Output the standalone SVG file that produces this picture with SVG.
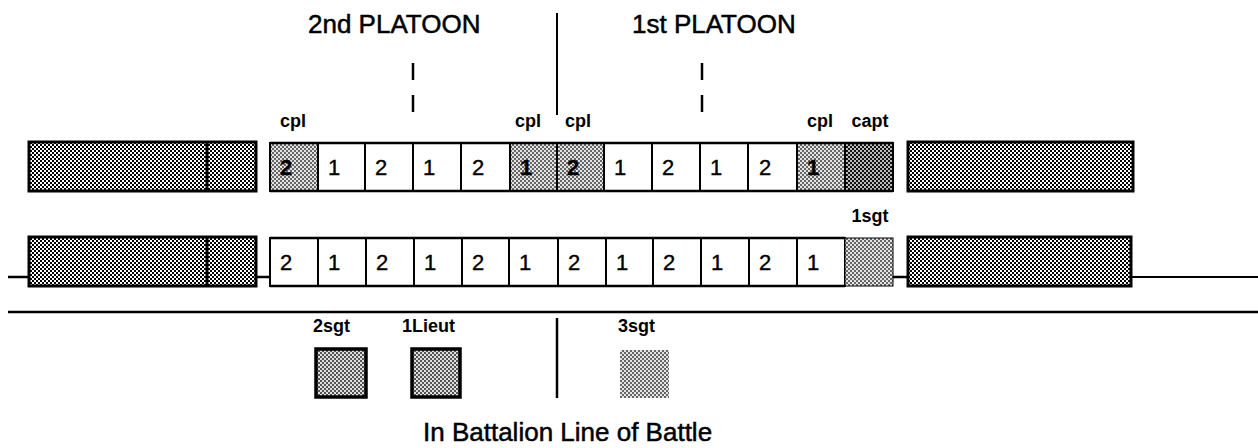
<svg xmlns="http://www.w3.org/2000/svg" width="1258" height="448" viewBox="0 0 1258 448">
<style>
.t{font-family:"Liberation Sans",Arial,sans-serif;fill:#000}
.title{font-size:26px;stroke:#000;stroke-width:0.5}
.lab{font-size:18px;font-weight:bold}
.dig{font-size:22px;stroke:#000;stroke-width:0.4}
.cell{fill:#fff;stroke:#000;stroke-width:2}
.big{fill:url(#pDark);stroke:#000;stroke-width:3}
.cpl{fill:url(#pLight);stroke:#000;stroke-width:2}
.capt{fill:url(#pDarker);stroke:#000;stroke-width:2}
.ln{stroke:#000;fill:none}
</style>
<defs>
<pattern id="pDark" width="4" height="4" patternUnits="userSpaceOnUse">
<rect width="4" height="4" fill="#fff"/>
<rect x="0" y="0" width="2" height="2" fill="#000"/>
<rect x="2" y="2" width="2" height="2" fill="#000"/>
</pattern>
<pattern id="pLight" width="4" height="4" patternUnits="userSpaceOnUse">
<rect width="4" height="4" fill="#e4e4e4"/>
<rect x="0" y="0" width="2" height="2" fill="#666"/>
<rect x="2" y="2" width="2" height="2" fill="#666"/>
</pattern>
<pattern id="pMid" width="4" height="4" patternUnits="userSpaceOnUse">
<rect width="4" height="4" fill="#ddd"/>
<rect x="0" y="0" width="2" height="2" fill="#555"/>
<rect x="2" y="2" width="2" height="2" fill="#555"/>
</pattern>
<pattern id="pDarker" width="4" height="4" patternUnits="userSpaceOnUse">
<rect width="4" height="4" fill="#bbb"/>
<rect x="0" y="0" width="2" height="2" fill="#111"/>
<rect x="2" y="2" width="2" height="2" fill="#111"/>
</pattern>
</defs>

<g id="connectors">
<line class="ln" x1="8" y1="277" x2="29" y2="277" stroke-width="2.5"/>
<line class="ln" x1="256" y1="277" x2="270" y2="277" stroke-width="2.5"/>
<line class="ln" x1="893" y1="277" x2="908" y2="277" stroke-width="2.5"/>
<line class="ln" x1="1131" y1="277" x2="1258" y2="277" stroke-width="2"/>
<line class="ln" x1="8" y1="312" x2="1258" y2="312" stroke-width="2.5"/>
<line class="ln" x1="557" y1="13" x2="557" y2="115" stroke-width="2"/>
<line class="ln" x1="557" y1="318" x2="557" y2="398" stroke-width="2.5"/>
<line class="ln" x1="413" y1="63" x2="413" y2="80" stroke-width="2.5"/>
<line class="ln" x1="413" y1="95" x2="413" y2="112" stroke-width="2.5"/>
<line class="ln" x1="702" y1="63" x2="702" y2="80" stroke-width="2.5"/>
<line class="ln" x1="702" y1="95" x2="702" y2="112" stroke-width="2.5"/>
</g>

<g id="titles">
<text class="t title" x="308" y="33">2nd PLATOON</text>
<text class="t title" x="632" y="33">1st PLATOON</text>
<text class="t title" x="423" y="441">In Battalion Line of Battle</text>
</g>

<g id="left-top">
<rect class="big" x="29" y="142" width="227" height="49"/>
<line class="ln" x1="207" y1="142" x2="207" y2="191" stroke-width="3"/>
</g>
<g id="left-bottom">
<rect class="big" x="29" y="237" width="227" height="49"/>
<line class="ln" x1="207" y1="237" x2="207" y2="286" stroke-width="3"/>
</g>
<g id="right-top"><rect class="big" x="908" y="142" width="225" height="49"/></g>
<g id="right-bottom"><rect class="big" x="908" y="237" width="223" height="49"/></g>

<g id="top-row">
<rect class="cpl" x="270" y="143" width="48" height="48"/>
<rect class="cell" x="318" y="143" width="47" height="48"/>
<rect class="cell" x="365" y="143" width="48" height="48"/>
<rect class="cell" x="413" y="143" width="48" height="48"/>
<rect class="cell" x="461" y="143" width="49" height="48"/>
<rect class="cpl" x="510" y="143" width="47" height="48"/>
<rect class="cpl" x="557" y="143" width="47" height="48"/>
<rect class="cell" x="604" y="143" width="48" height="48"/>
<rect class="cell" x="652" y="143" width="48" height="48"/>
<rect class="cell" x="700" y="143" width="48" height="48"/>
<rect class="cell" x="748" y="143" width="49" height="48"/>
<rect class="cpl" x="797" y="143" width="48" height="48"/>
<rect class="capt" x="845" y="143" width="48" height="48"/>
<line class="ln" x1="270" y1="143" x2="893" y2="143" stroke-width="2.5"/>
<line class="ln" x1="270" y1="191" x2="893" y2="191" stroke-width="2.5"/>
<g class="t dig">
<text x="280" y="175" font-weight="bold">2</text>
<text x="328" y="175">1</text>
<text x="375" y="175">2</text>
<text x="423" y="175">1</text>
<text x="472" y="175">2</text>
<text x="520" y="175" font-weight="bold">1</text>
<text x="567" y="175" font-weight="bold">2</text>
<text x="614" y="175">1</text>
<text x="662" y="175">2</text>
<text x="710" y="175">1</text>
<text x="759" y="175">2</text>
<text x="807" y="175" font-weight="bold">1</text>
</g>
</g>

<g id="bottom-row">
<rect class="cell" x="270" y="238" width="48" height="48"/>
<rect class="cell" x="318" y="238" width="48" height="48"/>
<rect class="cell" x="366" y="238" width="48" height="48"/>
<rect class="cell" x="414" y="238" width="48" height="48"/>
<rect class="cell" x="462" y="238" width="47" height="48"/>
<rect class="cell" x="509" y="238" width="49" height="48"/>
<rect class="cell" x="558" y="238" width="48" height="48"/>
<rect class="cell" x="606" y="238" width="47" height="48"/>
<rect class="cell" x="653" y="238" width="48" height="48"/>
<rect class="cell" x="701" y="238" width="48" height="48"/>
<rect class="cell" x="749" y="238" width="48" height="48"/>
<rect class="cell" x="797" y="238" width="48" height="48"/>
<rect x="845" y="238" width="48" height="48" fill="url(#pLight)" stroke="#000" stroke-width="1"/>
<line class="ln" x1="270" y1="238" x2="845" y2="238" stroke-width="2.5"/>
<line class="ln" x1="270" y1="286" x2="845" y2="286" stroke-width="2.5"/>
<g class="t dig">
<text x="280" y="270">2</text>
<text x="328" y="270">1</text>
<text x="376" y="270">2</text>
<text x="424" y="270">1</text>
<text x="472" y="270">2</text>
<text x="519" y="270">1</text>
<text x="568" y="270">2</text>
<text x="616" y="270">1</text>
<text x="663" y="270">2</text>
<text x="711" y="270">1</text>
<text x="759" y="270">2</text>
<text x="807" y="270">1</text>
</g>
</g>

<g id="labels">
<text class="t lab" x="280" y="127">cpl</text>
<text class="t lab" x="515" y="127">cpl</text>
<text class="t lab" x="565" y="127">cpl</text>
<text class="t lab" x="807" y="127">cpl</text>
<text class="t lab" x="870" y="127" text-anchor="middle">capt</text>
<text class="t lab" x="870" y="222" text-anchor="middle">1sgt</text>
</g>

<g id="sgt2">
<text class="t lab" x="313" y="332">2sgt</text>
<rect x="316" y="349" width="50" height="48" fill="url(#pMid)" stroke="#000" stroke-width="3.5"/>
</g>
<g id="lieut1">
<text class="t lab" x="402" y="332">1Lieut</text>
<rect x="412" y="349" width="48" height="48" fill="url(#pMid)" stroke="#000" stroke-width="3.5"/>
</g>
<g id="sgt3">
<text class="t lab" x="618" y="332">3sgt</text>
<rect x="620" y="350" width="49" height="48" fill="url(#pLight)"/>
</g>
</svg>
